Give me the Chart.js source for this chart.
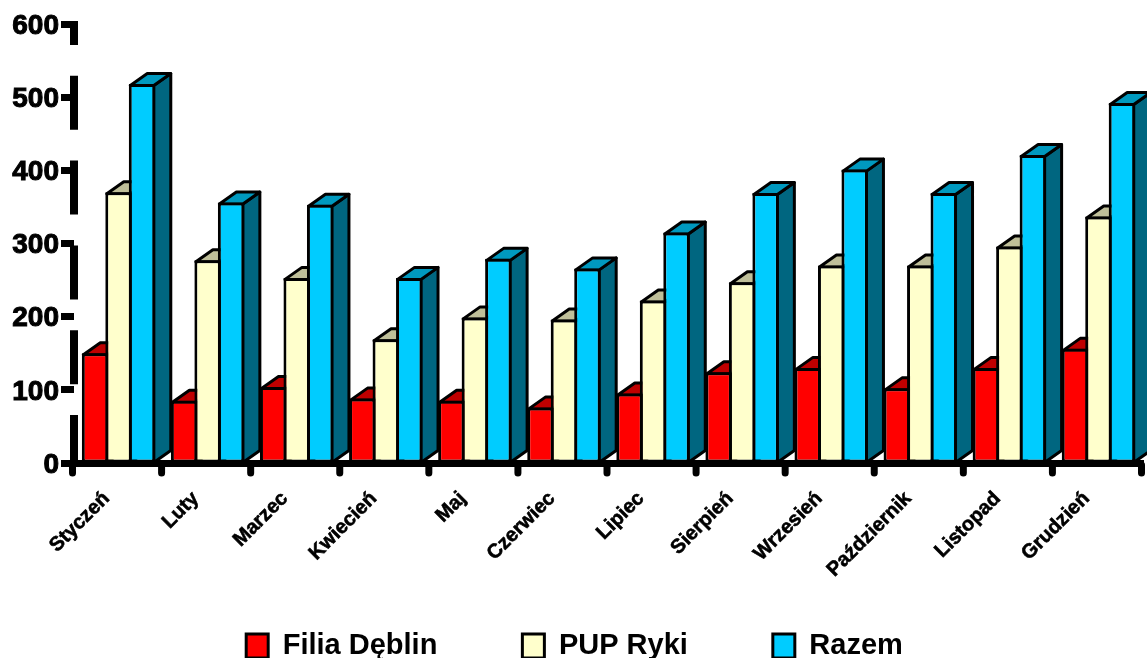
<!DOCTYPE html>
<html>
<head>
<meta charset="utf-8">
<script src="https://cdn.jsdelivr.net/npm/chart.js@4"></script>
<style>
html, body { margin: 0; background: #fff; }
canvas { display: block; }
</style>
</head>
<body>
<canvas id="wykres" width="1147" height="658"></canvas>
<script>
const miesiace = ["Styczeń", "Luty", "Marzec", "Kwiecień", "Maj", "Czerwiec", "Lipiec", "Sierpień", "Wrzesień", "Październik", "Listopad", "Grudzień"];
const filiaDeblin = [150, 85, 104, 88, 85, 76, 95, 124, 130, 102, 130, 156];
const pupRyki = [370, 277, 253, 169, 199, 196, 222, 247, 270, 270, 296, 337];
const razem = [518, 356, 353, 253, 279, 266, 315, 369, 401, 369, 421, 492];
const nazwySerii = ["Filia Dęblin", "PUP Ryki", "Razem"];
const yTicks = [0, 100, 200, 300, 400, 500, 600];

const koloryPrzod = ["#ff0000", "#ffffcc", "#00ccff"];
const koloryGora = ["#bf0000", "#bfbf99", "#0099bf"];
const koloryBok = ["#800000", "#808066", "#006680"];

const GLEBOKOSC_X = 17;
const GLEBOKOSC_Y = 12;
const KRESKA = 3;

const slupki3d = {
	id: "slupki3d",
	// etykiety osi X wychodza poza pudelko skali (legenda ma duzy padding)
	afterLayout(chart){
		chart.scales.x.bottom = 610;
	},
	// boki i wierzch slupkow (efekt 3D), przod rysuje Chart.js
	beforeDatasetsDraw(chart){
		const ctx = chart.ctx;
		ctx.save();
		ctx.lineWidth = KRESKA;
		ctx.strokeStyle = "#000";
		ctx.lineJoin = "round";
		chart.data.datasets.forEach((ds, d) => {
			chart.getDatasetMeta(d).data.forEach(bar => {
				const l = bar.x - bar.width / 2 + KRESKA / 2;
				const r = bar.x + bar.width / 2 - KRESKA / 2;
				const t = bar.y + KRESKA / 2;
				const b = bar.base;
				ctx.fillStyle = koloryBok[d];
				ctx.beginPath();
				ctx.moveTo(r, t);
				ctx.lineTo(r + GLEBOKOSC_X, t - GLEBOKOSC_Y);
				ctx.lineTo(r + GLEBOKOSC_X, b - GLEBOKOSC_Y);
				ctx.lineTo(r, b);
				ctx.closePath();
				ctx.fill();
				ctx.stroke();
				ctx.fillStyle = koloryGora[d];
				ctx.beginPath();
				ctx.moveTo(l, t);
				ctx.lineTo(l + GLEBOKOSC_X, t - GLEBOKOSC_Y);
				ctx.lineTo(r + GLEBOKOSC_X, t - GLEBOKOSC_Y);
				ctx.lineTo(r, t);
				ctx.closePath();
				ctx.fill();
				ctx.stroke();
			});
		});
		ctx.restore();
	},
	afterDraw(chart){
		const ctx = chart.ctx;
		const x = chart.scales.x;
		const krok = x.getPixelForValue(1) - x.getPixelForValue(0);
		ctx.save();
		ctx.strokeStyle = "#000";
		// zaokraglone znaczniki osi X
		ctx.lineWidth = 7;
		ctx.lineCap = "round";
		for(let i = 0; i <= miesiace.length; i++){
			const px = x.getPixelForValue(0) + (i - 0.5) * krok - 1.5;
			ctx.beginPath();
			ctx.moveTo(px, x.top + 2);
			ctx.lineTo(px, x.top + 10);
			ctx.stroke();
		}
		// przerywana os Y (border.dash dziala tylko na siatke)
		const area = chart.chartArea;
		ctx.lineCap = "butt";
		ctx.lineWidth = 8;
		ctx.setLineDash([54, 30.8]);
		ctx.lineDashOffset = 30;
		ctx.beginPath();
		ctx.moveTo(area.left, area.top - 3);
		ctx.lineTo(area.left, area.bottom + 4);
		ctx.stroke();
		ctx.restore();
	}
};

new Chart(document.querySelector("#wykres"), {
	type: "bar",
	data: {
		labels: miesiace,
		datasets: [filiaDeblin, pupRyki, razem].map((wartosci, i) => ({
			label: nazwySerii[i],
			data: wartosci,
			backgroundColor: koloryPrzod[i],
			borderColor: "#000",
			borderWidth: KRESKA,
			borderSkipped: false,
			categoryPercentage: 0.791,
			barPercentage: 1.128
		}))
	},
	options: {
		responsive: false,
		animation: false,
		layout: {
			autoPadding: false,
			padding: {top: 24, right: 4, left: 6, bottom: 0}
		},
		plugins: {
			tooltip: {enabled: false},
			legend: {
				position: "bottom",
				maxHeight: 111.5,
				labels: {
					boxWidth: 22,
					boxHeight: 24,
					padding: 85,
					color: "#000",
					font: {family: "'Liberation Sans'", weight: "bold", size: 29}
				}
			}
		},
		scales: {
			x: {
				afterFit: scale => { scale.height = 83.5; },
				grid: {display: false},
				border: {color: "#000", width: 7, z: 1},
				ticks: {
					color: "#000",
					autoSkip: false,
					minRotation: 45,
					maxRotation: 45,
					padding: 16,
					labelOffset: -12,
					textStrokeColor: "#000",
					textStrokeWidth: 0.6,
					font: {family: "'Liberation Sans'", weight: "bold", size: 20}
				}
			},
			y: {
				min: 0,
				max: 600,
				afterFit: scale => { scale.width = 68; },
				afterBuildTicks: scale => { scale.ticks = yTicks.map(v => ({value: v})); },
				grid: {drawOnChartArea: false, tickColor: "#000", tickWidth: 7, tickLength: 13},
				border: {display: false},
				ticks: {
					color: "#000",
					padding: 2,
					labelOffset: 2,
					textStrokeColor: "#000",
					textStrokeWidth: 1,
					font: {family: "'Liberation Sans'", weight: "bold", size: 28}
				}
			}
		}
	},
	plugins: [slupki3d]
});
</script>
</body>
</html>
